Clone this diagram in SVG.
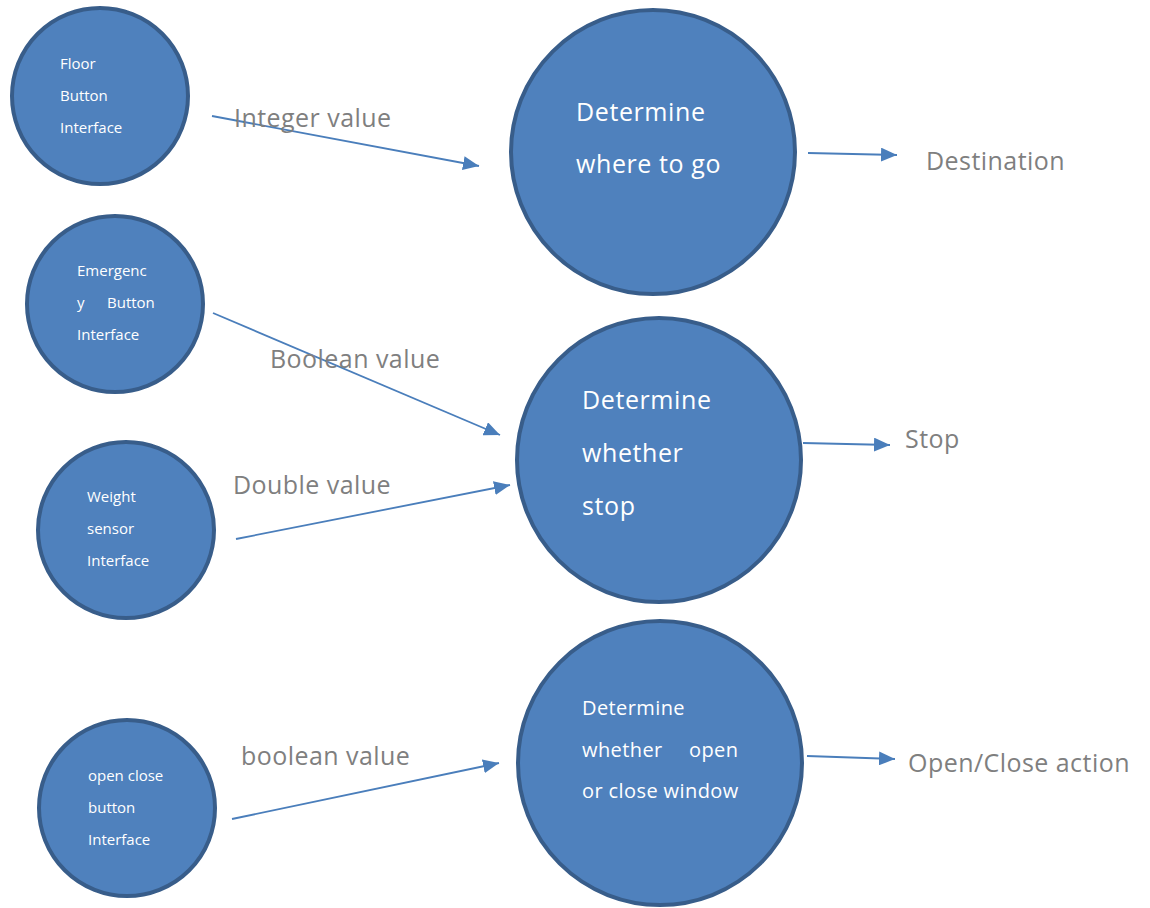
<svg xmlns="http://www.w3.org/2000/svg" width="1150" height="908" viewBox="0 0 1150 908">
<defs>
<style>
.node{fill:#4f81bd;stroke:#385d8a;stroke-width:4}
.t{font-family:"Open Sans","Noto Sans","Liberation Sans",sans-serif;fill:#ffffff}
.s{font-size:15px}
.b{font-size:25px;letter-spacing:0.6px}
.m{font-size:20px;letter-spacing:0.4px}
.lbl{font-family:"Open Sans","Noto Sans","Liberation Sans",sans-serif;font-size:25px;fill:#7f7f7f;letter-spacing:0.45px}
.edge{stroke:#4a7ebb;stroke-width:1.8;fill:none;marker-end:url(#arr)}
</style>
<marker id="arr" markerUnits="userSpaceOnUse" markerWidth="18" markerHeight="14" refX="16" refY="7" orient="auto">
<path d="M0,0 L16,7 L0,14 Z" fill="#4a7ebb"/>
</marker>
</defs>
<rect width="1150" height="908" fill="#ffffff"/>

<g id="floor-button">
<circle class="node" cx="100" cy="96" r="88"/>
<text class="t s" x="60" y="69">Floor</text>
<text class="t s" x="60" y="101">Button</text>
<text class="t s" x="60" y="133">Interface</text>
</g>

<g id="emergency-button">
<circle class="node" cx="115" cy="304" r="88"/>
<text class="t s" x="77" y="276">Emergenc</text>
<text class="t s" x="77" y="308">y</text>
<text class="t s" x="107" y="308">Button</text>
<text class="t s" x="77" y="340">Interface</text>
</g>

<g id="weight-sensor">
<circle class="node" cx="126" cy="530" r="88"/>
<text class="t s" x="87" y="502">Weight</text>
<text class="t s" x="87" y="534">sensor</text>
<text class="t s" x="87" y="566">Interface</text>
</g>

<g id="open-close-button">
<circle class="node" cx="127" cy="808" r="88"/>
<text class="t s" x="88" y="781">open close</text>
<text class="t s" x="88" y="813">button</text>
<text class="t s" x="88" y="845">Interface</text>
</g>

<g id="where-to-go">
<circle class="node" cx="653" cy="152" r="142"/>
<text class="t b" x="576" y="121">Determine</text>
<text class="t b" x="576" y="173">where to go</text>
</g>

<g id="whether-stop">
<circle class="node" cx="659" cy="460" r="142"/>
<text class="t b" x="582" y="409">Determine</text>
<text class="t b" x="582" y="462">whether</text>
<text class="t b" x="582" y="515">stop</text>
</g>

<g id="open-close-window">
<circle class="node" cx="660" cy="763" r="142"/>
<text class="t m" x="582" y="715">Determine</text>
<text class="t m" x="582" y="757">whether</text>
<text class="t m" x="689" y="757">open</text>
<text class="t m" x="582" y="798">or close window</text>
</g>

<g id="connectors">
<line class="edge" x1="212" y1="116" x2="479" y2="166"/>
<line class="edge" x1="808" y1="153" x2="897" y2="155"/>
<line class="edge" x1="213" y1="313" x2="500" y2="435"/>
<line class="edge" x1="236" y1="539" x2="510" y2="485"/>
<line class="edge" x1="803" y1="443" x2="890" y2="445"/>
<line class="edge" x1="232" y1="819" x2="499" y2="763"/>
<line class="edge" x1="807" y1="756" x2="895" y2="759"/>
</g>

<g id="labels">
<text class="lbl" x="234" y="127">Integer value</text>
<text class="lbl" x="926" y="170">Destination</text>
<text class="lbl" x="270" y="368">Boolean value</text>
<text class="lbl" x="905" y="448">Stop</text>
<text class="lbl" x="233" y="494">Double value</text>
<text class="lbl" x="241" y="765">boolean value</text>
<text class="lbl" x="908" y="772">Open/Close action</text>
</g>
</svg>
